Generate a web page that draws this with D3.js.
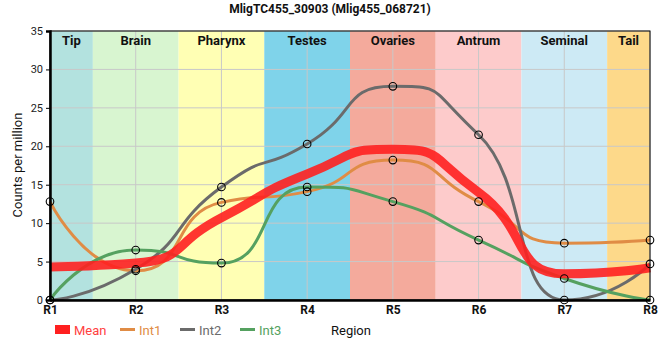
<!DOCTYPE html>
<html><head><meta charset="utf-8">
<script src="https://cdn.jsdelivr.net/npm/d3@7"></script>
<style>body{margin:0;background:#fff;}svg{display:block;font-family:Roboto, "Liberation Sans", Arial, sans-serif;}</style>
</head><body>
<svg id="c" width="660" height="360"></svg>
<script>
const categories = ["R1","R2","R3","R4","R5","R6","R7","R8"];
const regionNames = ["Tip","Brain","Pharynx","Testes","Ovaries","Antrum","Seminal","Tail"];
const regionColors = ["#b3e2df","#d8f5d0","#ffffb4","#7fd3ea","#f4aa9c","#fdcbcb","#cdeaf5","#fdd98a"];
const int1 = [12.8, 3.8, 12.7, 14.1, 18.2, 12.8, 7.4, 7.8];
const int2 = [0, 4.0, 14.7, 20.3, 27.8, 21.5, 0, 4.7];
const int3 = [0, 6.5, 4.8, 14.7, 12.8, 7.8, 2.8, 0];
const meanVals = [4.3, 4.8, 10.7, 16.4, 19.6, 14.0, 3.4, 4.2];
const yTicks = [0,5,10,15,20,25,30,35];
const seriesNames = ["Mean","Int1","Int2","Int3"];
const seriesColors = ["#ff2020","#e08c45","#6b6b6b","#55a160"];

const svg = d3.select("#c");
const L=50, R=650, T=31, B=300;
const x = d3.scalePoint().domain(categories).range([L,R]);
const y = d3.scaleLinear().domain([0,35]).range([B,T]);
const step = x.step();

// smoothed spline path through points (control points clamped to avoid false extremes)
function splinePath(vals){
  const pts = vals.map((v,i)=>({px:x(categories[i]), py:y(v)}));
  const f = 0.6;
  const p = d3.path();
  p.moveTo(pts[0].px, pts[0].py);
  let lastRC = null;
  for(let i=1;i<pts.length;i++){
    const pt = pts[i], lp = pts[i-1], np = pts[i+1];
    let lcx=pt.px, lcy=pt.py, rc=null;
    if(np){
      lcx = pt.px + f*(lp.px-pt.px); lcy = pt.py + f*(lp.py-pt.py);
      let rcx = pt.px + f*(np.px-pt.px), rcy = pt.py + f*(np.py-pt.py);
      const corr = ((rcy-lcy)*(rcx-pt.px))/(rcx-lcx) + pt.py - rcy;
      lcy += corr; rcy += corr;
      if(lcy > lp.py && lcy > pt.py){ lcy = Math.max(lp.py, pt.py); rcy = 2*pt.py - lcy; }
      else if(lcy < lp.py && lcy < pt.py){ lcy = Math.min(lp.py, pt.py); rcy = 2*pt.py - lcy; }
      if(rcy > np.py && rcy > pt.py){ rcy = Math.max(np.py, pt.py); lcy = 2*pt.py - rcy; }
      else if(rcy < np.py && rcy < pt.py){ rcy = Math.min(np.py, pt.py); lcy = 2*pt.py - rcy; }
      rc = [rcx, rcy];
    }
    const c1 = lastRC || [lp.px, lp.py];
    p.bezierCurveTo(c1[0], c1[1], lcx, lcy, pt.px, pt.py);
    lastRC = rc;
  }
  return p.toString();
}

// region bands
svg.append("g").selectAll("rect").data(categories).join("rect")
  .attr("x",(d,i)=>Math.max(L, x(d)-step/2))
  .attr("width",(d,i)=>Math.min(R, x(d)+step/2)-Math.max(L, x(d)-step/2))
  .attr("y",T).attr("height",B-T)
  .attr("fill",(d,i)=>regionColors[i]);

// grid
svg.append("g").selectAll("line").data(yTicks).join("line")
  .attr("x1",L).attr("x2",R).attr("y1",d=>y(d)).attr("y2",d=>y(d))
  .attr("stroke","#c8c8c8").attr("stroke-width",1);
svg.append("g").selectAll("line").data(categories).join("line")
  .attr("x1",d=>x(d)).attr("x2",d=>x(d)).attr("y1",T).attr("y2",B)
  .attr("stroke","#c8c8c8").attr("stroke-width",1);

// region labels
svg.append("g").selectAll("text").data(categories).join("text")
  .attr("x",(d,i)=>(Math.max(L, x(d)-step/2)+Math.min(R, x(d)+step/2))/2)
  .attr("y",45).attr("text-anchor","middle")
  .attr("font-size",13).attr("font-weight","bold").attr("fill","#111")
  .text((d,i)=>regionNames[i]);

// lines
const allSeries = [meanVals,int1,int2,int3];
[1,2,3].forEach(k=>{
  svg.append("path").attr("d",splinePath(allSeries[k])).attr("fill","none")
    .attr("stroke",seriesColors[k]).attr("stroke-width",3);
});
svg.append("path").attr("d",splinePath(meanVals)).attr("fill","none")
  .attr("stroke",seriesColors[0]).attr("stroke-width",9).attr("stroke-opacity",0.9);

// points
[1,2,3].forEach(k=>{
  svg.append("g").selectAll("circle").data(allSeries[k]).join("circle")
    .attr("cx",(d,i)=>x(categories[i])).attr("cy",d=>y(d)).attr("r",3.8)
    .attr("fill","none").attr("stroke","#000").attr("stroke-width",1.1);
});

// frame
svg.append("rect").attr("x",L).attr("y",T).attr("width",R-L).attr("height",B-T)
  .attr("fill","none").attr("stroke","#000").attr("stroke-width",1);

// axes
const yAxis = svg.append("g").attr("transform",`translate(${L},0)`)
  .call(d3.axisLeft(y).tickValues(yTicks).tickSize(4).tickPadding(3));
yAxis.select(".domain").attr("stroke-width",2.5);
yAxis.selectAll("text").attr("font-size",11).attr("fill","#222").attr("font-family","Roboto, sans-serif");
const xAxis = svg.append("g").attr("transform",`translate(0,${B})`)
  .call(d3.axisBottom(x).tickSize(0).tickPadding(5));
xAxis.select(".domain").attr("stroke-width",2.5);
xAxis.selectAll("text").attr("font-size",12).attr("font-weight","bold").attr("fill","#111").attr("font-family","Roboto, sans-serif");

// title
svg.append("text").attr("x",330).attr("y",13).attr("text-anchor","middle")
  .attr("font-size",12).attr("font-weight","bold").attr("fill","#111")
  .text("MligTC455_30903 (Mlig455_068721)");

// y label
svg.append("text").attr("transform","translate(22,165) rotate(-90)")
  .attr("text-anchor","middle").attr("font-size",13).attr("fill","#111")
  .text("Counts per million");

// legend
const lx = [55,120,180,240];
seriesNames.forEach((n,k)=>{
  if(k===0){
    svg.append("rect").attr("x",lx[k]).attr("y",325).attr("width",15).attr("height",9).attr("fill",seriesColors[k]);
  } else {
    svg.append("line").attr("x1",lx[k]).attr("x2",lx[k]+15).attr("y1",329.5).attr("y2",329.5)
      .attr("stroke",seriesColors[k]).attr("stroke-width",3);
  }
  svg.append("text").attr("x",lx[k]+19).attr("y",334.5).attr("font-size",13)
    .attr("fill",k===0?"#ff4040":seriesColors[k]).text(n);
});
svg.append("text").attr("x",331).attr("y",335).attr("font-size",13).attr("fill","#111").text("Region");
</script>
</body></html>
